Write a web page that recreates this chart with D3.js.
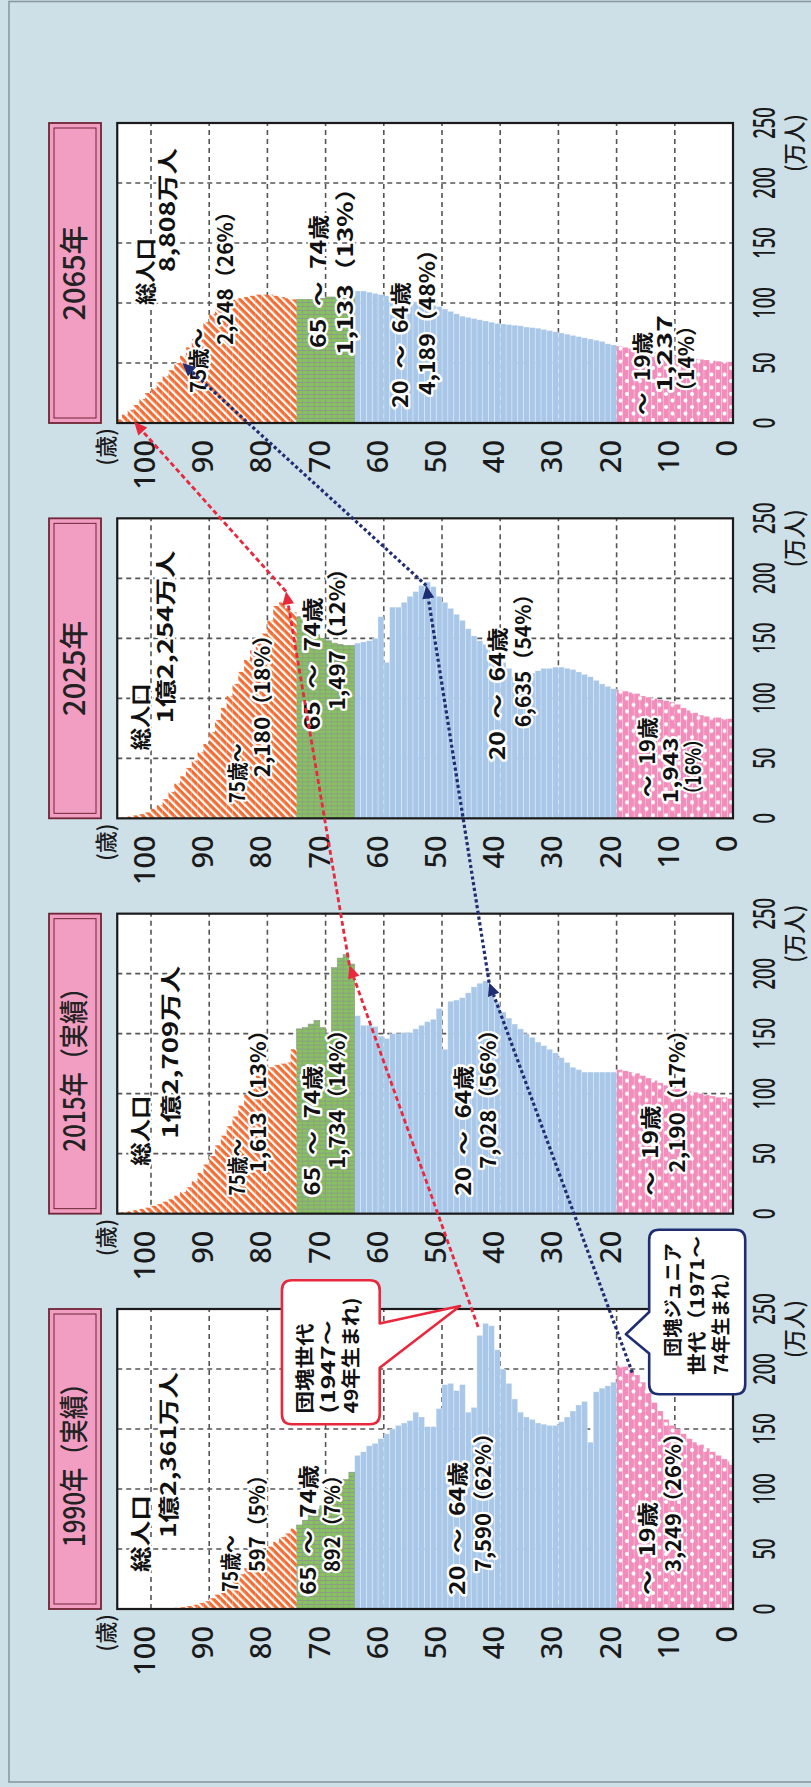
<!DOCTYPE html>
<html><head><meta charset="utf-8">
<script src="https://cdn.jsdelivr.net/npm/d3@7/dist/d3.min.js"></script>
<style>
html,body{margin:0;padding:0;background:#cddfe7;}
svg{display:block;}
</style></head><body>
<svg id="chart" width="811" height="1787"></svg>
<script>
// ---------------- DATA ----------------
const ages = d3.range(0, 106);
const pop1990 = [123,125,128,131,134,137,139,142,146,150,
 153,158,165,172,180,189,195,199,202,203,
 189,186,184,181,139,173,170,165,160,156,
 153,153,154,155,158,160,164,175,188,200,
 216,236,238,228,168,164,187,182,188,187,
 167,152,152,160,164,157,155,153,150,146,
 142,138,136,131,128,114,108,102,96,90,
 86,83,79,74,70,67,63,60,56,52,
 48,44,39,34,29,24,20,16,12,9,
 6.5,5,3.5,2.5,1.5,1,0.7,0.5,0.3,0.2,
 0.1,0,0,0,0,0];
const pop2015 = [96,97,97,98,99,100,101,102,103,104,
 106,107,109,111,113,115,117,118,119,120,
 118,118,118,118,118,118,120,122,126,130,
 134,137,140,143,147,150,154,158,163,168,
 176,188,194,192,189,184,180,178,177,137,
 171,162,160,157,154,151,151,150,150,146,
 148,156,157,157,165,208,216,213,205,150,
 155,161,158,155,154,137,126,125,124,122,
 122,115,106,99,90,81,73,65,57,48,
 41,34,27,22,18,15,12,10,8,6.5,
 5,4,3,2,1.5,1];
const pop2025 = [83,83,84,84,85,86,88,90,92,95,
 97,98,99,100,101,102,104,105,106,107,
 108,110,112,115,118,120,122,124,125,126,
 126,125,125,123,121,119,117,118,125,130,
 136,141,145,148,152,158,165,170,175,180,
 185,193,197,194,189,185,180,176,176,130,
 168,150,148,147,146,144,144,145,146,148,
 150,153,158,162,168,172,175,180,177,165,
 154,147,140,132,122,112,102,92,82,72,
 62,55,48,42,35,29,22,16,11,8,
 5,3.5,2.5,1.5,1,0.5];
const pop2065 = [51,51,51.5,52,52.5,53,53.5,54,55,55.5,
 56,57,58,59,59.5,60,61,62,63,64,
 65,66,68,69,70,71,72,73,74,75,
 76,77,78,79,79.5,80,81,81.5,82,82.5,
 83,84,85,86,87,88,89,91,93,95,
 97,98,99,100,101,102,103,104,105,106,
 107,108,109,110,110,108,107,106,105,105,
 104,104,103,103,103,103,104,105,106,107,
 107,107,106,105,104,103,102,99,96,91,
 84,77,70,63,56,50,44,39,34,29,
 25,20,15,11,7,3];
const popSeries = [pop1990, pop2015, pop2025, pop2065];
const panelTitles = ["1990年（実績）","2015年（実績）","2025年","2065年"];
const popTicks = [0,50,100,150,200,250];
const ageTicks = [0,10,20,30,40,50,60,70,80,90,100];
const totalText = ["1億2,361万人","1億2,709万人","1億2,254万人","8,808万人"];
const g75Text = ["597（5%）","1,613（13%）","2,180（18%）","2,248（26%）"];
const g65Text = ["892（7%）","1,734（14%）","1,497（12%）","1,133（13%）"];
const g20Text = ["7,590（62%）","7,028（56%）","6,635（54%）","4,189（48%）"];
const g0Text  = [["3,249（26%）"],["2,190（17%）"],["1,943","（16%）"],["1,237","（14%）"]];
// cohort arrows: [panel index, age, population]
const boomerPath = [[0,43.8,235],[1,65.9,207],[2,76.8,189],[3,102.9,1]];
const juniorPath = [[0,17.3,197],[1,41.9,192.5],[2,52.7,194],[3,94.6,50]];

// ---------------- LAYOUT ----------------
const W = 1787, H = 811;
const ageScale = d3.scaleLinear().domain([0,100]).range([733,151]);
const popScale = d3.scaleLinear().domain([0,250]).range([0,300]);
const panelX = d3.scaleLinear().domain([0,3]).range([178,1364]);
const AGE_TOP = 105.8;
// label layout per panel: [Ycenter, dxStart, dxEnd]
const labLayout = [
 {tot:[[140,37,114],[168,71,237]], g75:[[230,17,74],[257,37,144]], g65:[[308,14,144],[332,37,144]], g20:[[457,14,147],[483,37,187]], g0:[[647,14,107],[673,37,187]]},
 {tot:[[140,48,118],[170,75,248]], g75:[[237,18,75],[258,41,195]], g65:[[312,18,148],[337,45,195]], g20:[[463,18,148],[488,45,195]], g0:[[650,18,108],[677,41,195]]},
 {tot:[[140,68,135],[165,95,268]], g75:[[237,15,75],[262,41,195]], g65:[[312,88,221],[337,108,261]], g20:[[497,58,191],[523,91,235]], g0:[[647,21,101],[670,15,81],[693,15,88]]},
 {tot:[[145,118,185],[167,151,275]], g75:[[198,30,95],[225,78,222]], g65:[[318,75,208],[345,68,248]], g20:[[400,15,141],[427,28,185]], g0:[[642,8,91],[664,31,108],[686,21,108]]}
];

const svg = d3.select("#chart");
const defs = svg.append("defs");
// patterns
const pOr = defs.append("pattern").attr("id","pOr").attr("patternUnits","userSpaceOnUse")
  .attr("width",5.5).attr("height",5.5).attr("patternTransform","rotate(45)");
pOr.append("rect").attr("width",5.5).attr("height",5.5).attr("fill","#f26d33");
pOr.append("rect").attr("width",2.2).attr("height",5.5).attr("fill","#ffffff");
const pGr = defs.append("pattern").attr("id","pGr").attr("patternUnits","userSpaceOnUse")
  .attr("width",4).attr("height",4);
pGr.append("rect").attr("width",4).attr("height",4).attr("fill","#86c35f");
pGr.append("rect").attr("width",1).attr("height",4).attr("fill","#8d9a86");
const pPk = defs.append("pattern").attr("id","pPk").attr("patternUnits","userSpaceOnUse")
  .attr("width",13).attr("height",13);
pPk.append("rect").attr("width",13).attr("height",13).attr("fill","#f28cba");
pPk.append("circle").attr("cx",3).attr("cy",3).attr("r",2.1).attr("fill","#fff");
pPk.append("circle").attr("cx",9.5).attr("cy",9.5).attr("r",2.1).attr("fill","#fff");

function groupFill(a){ return a<20?"url(#pPk)":a<65?"#a9c8e9":a<75?"url(#pGr)":"url(#pOr)"; }
function groupStroke(a){ return a<20?"rgba(255,255,255,0.35)":a<65?"rgba(255,255,255,0.45)":a<75?"#8d9a86":"none"; }

// rotated drawing group (landscape chart turned 90° counter-clockwise)
const g = svg.append("g").attr("transform",`translate(0,${W}) rotate(-90)`);
g.append("rect").attr("x",0).attr("y",0).attr("width",W).attr("height",H+20).attr("fill","#cddfe7");
g.append("rect").attr("x",5).attr("y",9).attr("width",1780.5).attr("height",H+40)
 .attr("fill","none").attr("stroke","#8a999f").attr("stroke-width",1.6);

const CJK = "'Noto Sans CJK JP','Noto Sans',sans-serif";
function halo(sel,w){ return sel.attr("stroke","#fff").attr("stroke-width",w||4).attr("stroke-linejoin","round").attr("paint-order","stroke"); }

popSeries.forEach((series,i)=>{
  const p = g.append("g").attr("transform",`translate(${panelX(i)},0)`);
  const yTop = ageScale(AGE_TOP), yBot = ageScale(0);
  // title box
  p.append("rect").attr("x",0).attr("y",49).attr("width",popScale(250)).attr("height",52)
    .attr("fill","#f19ec2").attr("stroke","#6e2535").attr("stroke-width",1.8);
  p.append("rect").attr("x",5).attr("y",54).attr("width",popScale(250)-10).attr("height",42)
    .attr("fill","none").attr("stroke","#6e2535").attr("stroke-width",1);
  const tt = p.append("text").attr("x",popScale(250)/2).attr("y",85).attr("text-anchor","middle")
    .attr("font-family",CJK).attr("font-size",29).attr("font-weight",500).attr("fill","#222").text(panelTitles[i]);
  if (panelTitles[i].length>6) tt.attr("textLength",176).attr("lengthAdjust","spacingAndGlyphs");
  // frame background
  p.append("rect").attr("x",0).attr("y",yTop).attr("width",popScale(250)).attr("height",yBot-yTop).attr("fill","#fff");
  // grid
  p.selectAll(".vg").data(popTicks.filter(v=>v>0&&v<250)).join("line")
    .attr("x1",d=>popScale(d)).attr("x2",d=>popScale(d)).attr("y1",yTop).attr("y2",yBot)
    .attr("stroke","#555").attr("stroke-width",1.6).attr("stroke-dasharray","5,4");
  p.selectAll(".hg").data(ageTicks.filter(a=>a>0)).join("line")
    .attr("x1",0).attr("x2",popScale(250)).attr("y1",d=>ageScale(d)).attr("y2",d=>ageScale(d))
    .attr("stroke","#555").attr("stroke-width",1.6).attr("stroke-dasharray","5,4");
  // bars
  p.selectAll(".bar").data(ages.filter(a=>series[a]>0)).join("rect")
    .attr("x",0).attr("y",a=>ageScale(a+1)).attr("width",a=>popScale(series[a]))
    .attr("height",a=>ageScale(a)-ageScale(a+1))
    .attr("fill",a=>groupFill(a)).attr("stroke",a=>groupStroke(a)).attr("stroke-width",0.6);
  // frame
  p.append("rect").attr("x",0).attr("y",yTop).attr("width",popScale(250)).attr("height",yBot-yTop)
    .attr("fill","none").attr("stroke","#1a1a1a").attr("stroke-width",2.2);
  // age ticks
  p.selectAll(".at").data(ageTicks).join("text")
    .attr("x",-17).attr("y",d=>ageScale(d)+4).attr("text-anchor","end")
    .attr("font-family","'Noto Sans',sans-serif").attr("font-size",29).attr("font-weight",500).attr("fill","#1a1a1a").text(d=>d);
  p.append("text").attr("x",-5).attr("y",114).attr("text-anchor","end")
    .attr("font-family",CJK).attr("font-size",22).attr("font-weight",500).attr("fill","#1a1a1a").text("(歳)");
  // population ticks
  p.selectAll(".pt").data(popTicks).join("text")
    .attr("x",d=>popScale(d)).attr("y",775).attr("text-anchor","middle")
    .attr("font-family","'Noto Sans',sans-serif").attr("font-size",30).attr("font-weight",500).attr("fill","#1a1a1a")
    .attr("textLength",d=>String(d).length*10.5).attr("lengthAdjust","spacingAndGlyphs").text(d=>d);
  p.append("text").attr("x",popScale(250)-20).attr("y",803).attr("text-anchor","middle")
    .attr("font-family",CJK).attr("font-size",23).attr("font-weight",500).attr("fill","#1a1a1a")
    .attr("textLength",58).attr("lengthAdjust","spacingAndGlyphs").text("(万人)");
  // labels
  const L = labLayout[i];
  const lines = [
    ["総人口",L.tot[0]],[totalText[i],L.tot[1]],
    ["75歳～",L.g75[0]],[g75Text[i],L.g75[1]],
    ["65\u2002～\u200274歳",L.g65[0]],[g65Text[i],L.g65[1]],
    ["20\u2002～\u200264歳",L.g20[0]],[g20Text[i],L.g20[1]],
    ["～\u200219歳",L.g0[0]]
  ];
  g0Text[i].forEach((t,k)=>lines.push([t,L.g0[k+1]]));
  lines.forEach(([t,pos])=>{
    const tx = p.append("text").attr("x",pos[1]).attr("y",pos[0]+7.5)
      .attr("font-family",CJK).attr("font-size",21).attr("font-weight",700).attr("fill","#111")
      .attr("textLength",pos[2]-pos[1]).attr("lengthAdjust","spacingAndGlyphs").text(t);
    halo(tx,4.5);
  });
});

// cohort arrows
function pt(d){ return [panelX(d[0])+popScale(d[2]), ageScale(d[1])]; }
function drawCohort(path,color,dash,width){
  const pts = path.map(pt);
  for(let k=1;k<pts.length;k++){
    const a = pts[k-1], b = pts[k];
    const dx=b[0]-a[0], dy=b[1]-a[1], len=Math.hypot(dx,dy), ux=dx/len, uy=dy/len;
    const hl=13, hw=6;
    const base=[b[0]-ux*hl, b[1]-uy*hl];
    g.append("line").attr("x1",a[0]).attr("y1",a[1]).attr("x2",base[0]).attr("y2",base[1])
      .attr("stroke",color).attr("stroke-width",width).attr("stroke-dasharray",dash);
    g.append("path").attr("d",d3.line()([b,[base[0]-uy*hw,base[1]+ux*hw],[base[0]+uy*hw,base[1]-ux*hw]])+"Z")
      .attr("fill",color);
  }
}
drawCohort(boomerPath,"#e8283c","5,3",2.8);
drawCohort(juniorPath,"#1f2d72","3.2,2.6",3.2);

// balloons (defined in 1990 panel data units: population, age)
function balloon(box,tail,color){
  const x0=panelX(0)+popScale(box[0]), x1=panelX(0)+popScale(box[1]);
  const y0=ageScale(box[2]), y1=ageScale(box[3]), r=10;
  const tb0=panelX(0)+popScale(tail[0]), tb1=panelX(0)+popScale(tail[1]);
  const tip=[panelX(0)+popScale(tail[2]), ageScale(tail[3])];
  let d;
  if (tail[4]==="bottom"){
    d=`M${x0+r},${y0} H${x1-r} Q${x1},${y0} ${x1},${y0+r} V${y1-r} Q${x1},${y1} ${x1-r},${y1} H${tb1} L${tip[0]},${tip[1]} L${tb0},${y1} H${x0+r} Q${x0},${y1} ${x0},${y1-r} V${y0+r} Q${x0},${y0} ${x0+r},${y0} Z`;
  } else {
    d=`M${x0+r},${y0} H${tb0} L${tip[0]},${tip[1]} L${tb1},${y0} H${x1-r} Q${x1},${y0} ${x1},${y0+r} V${y1-r} Q${x1},${y1} ${x1-r},${y1} H${x0+r} Q${x0},${y1} ${x0},${y1-r} V${y0+r} Q${x0},${y0} ${x0+r},${y0} Z`;
  }
  g.append("path").attr("d",d).attr("fill","#fff").attr("stroke",color).attr("stroke-width",2.6).attr("stroke-linejoin","round");
}
// [popLeft, popRight, ageTop, ageBottom], [tailBase0, tailBase1, tipPop, tipAge, side]
balloon([154,274,77.5,60.7],[201,238,252.5,46.9,"bottom"],"#e8283c");
balloon([179,316,14.4,-2.1],[213,247.5,229,18.4,"top"],"#1f2d72");
const balloonText = [
  {lines:["団塊世代","(1947～","49年生まれ)"], pop:[163,163,163], age:[73.6,69.6,65.6], len:[90,93,116]},
  {lines:["団塊ジュニア","世代（1971～","74年生まれ）"], pop:[210,195,195], age:[10.3,6.2,2.1], len:[114,139,112]}
];
balloonText.forEach(b=>{
  b.lines.forEach((t,k)=>{
    g.append("text").attr("x",panelX(0)+popScale(b.pop[k])).attr("y",ageScale(b.age[k])+7)
      .attr("font-family",CJK).attr("font-size",19).attr("font-weight",700).attr("fill","#111")
      .attr("textLength",b.len[k]).attr("lengthAdjust","spacingAndGlyphs").text(t);
  });
});
</script>
</body></html>
